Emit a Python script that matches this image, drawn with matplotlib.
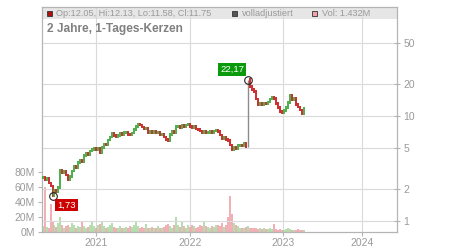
import matplotlib
matplotlib.use("Agg")
import matplotlib.pyplot as plt
import matplotlib.dates as mdates
from matplotlib.patches import Rectangle
from matplotlib.ticker import FixedLocator, FixedFormatter, NullLocator
import pandas as pd
import numpy as np

plt.rcParams['font.family'] = ['Liberation Sans', 'DejaVu Sans']

# ---------------- data ----------------
start_date = "2020-06-05"
end_date = "2023-03-24"

close = [
    2.6, 2.45, 2.55, 2.3, 2.15, 1.73, 1.95, 1.9, 2.1, 3.05,
    2.9, 3.0, 2.75, 2.45, 2.65, 3.0, 3.3, 3.2, 3.6, 3.8,
    3.7, 4.2, 4.4, 4.3, 4.65, 4.8, 4.95, 4.8, 4.9, 4.5,
    5.0, 5.4, 5.3, 5.9, 6.3, 6.8, 6.5, 6.3, 6.5, 6.8,
    6.7, 6.95, 7.0, 6.7, 6.6, 6.9, 7.4, 7.9, 8.4, 8.2,
    7.85, 7.5, 7.6, 7.0, 7.1, 6.9, 7.1, 6.9, 7.0, 6.6,
    6.7, 6.3, 6.0, 5.8, 6.7, 7.2, 7.0, 7.9, 8.0, 7.8,
    8.1, 7.9, 8.2, 8.4, 8.0, 7.7, 7.9, 7.5, 7.4, 7.2,
    7.0, 7.2, 6.9, 7.0, 7.1, 6.9, 7.2, 7.35, 7.1, 6.6,
    6.1, 6.2, 6.0, 5.8, 5.3, 4.8, 5.0, 4.9, 5.2, 5.3,
    5.2, 5.5, 5.1, 22.17, 19.0, 18.0, 17.0, 14.5, 12.8, 13.2,
    12.9, 13.3, 13.0, 13.6, 14.5, 15.1, 14.6, 13.2, 12.0, 11.0,
    10.8, 11.2, 12.0, 13.5, 15.8, 14.3, 14.6, 12.9, 12.2, 11.4,
    10.6, 11.75,
]

volume_m = [
    8, 60, 7, 6, 38, 13, 9, 7, 12, 20,
    9, 6, 8, 10, 7, 12, 9, 6, 8, 7,
    13, 8, 6, 7, 9, 15, 8, 6, 9, 11,
    15, 8, 6, 7, 9, 12, 7, 6, 5, 8,
    6, 5, 7, 6, 8, 7, 9, 13, 8, 6,
    7, 5, 11, 6, 5, 7, 6, 5, 8, 6,
    5, 7, 9, 11, 8, 6, 9, 20, 9, 7,
    13, 8, 6, 9, 7, 10, 8, 6, 7, 9,
    8, 13, 8, 7, 6, 8, 7, 10, 9, 8,
    12, 7, 9, 20, 48, 24, 12, 9, 8, 6,
    5, 6, 7, 8, 6, 5, 6, 5, 4, 5,
    4, 5, 4, 4, 5, 4, 11, 4, 3, 4,
    3, 3, 4, 5, 4, 3, 3, 3, 4, 3,
    3, 3,
]

price_ticks = [1, 2, 5, 10, 20, 50]
price_tick_labels = ["1", "2", "5", "10", "20", "50"]
vol_ticks = [0, 20, 40, 60, 80]
vol_tick_labels = ["0M", "20M", "40M", "60M", "80M"]
year_ticks = ["2021-01-01", "2022-01-01", "2023-01-01", "2024-01-01"]
year_labels = ["2021", "2022", "2023", "2024"]

header_ohlc = "Op:12.05, Hi:12.13, Lo:11.58, Cl:11.75"
header_adj = "volladjustiert"
header_vol = "Vol: 1.432M"
title_text = "2 Jahre, 1-Tages-Kerzen"

# ---------------- derived ----------------
dates = mdates.date2num(pd.date_range(start_date, end_date, periods=len(close)))
opens = [close[0]] + close[:-1]
t_last = dates[-1]
FUTURE_K = 0.80  # time axis is compressed beyond the last trading day


def fwd(x):
    x = np.asarray(x, dtype=float)
    return np.where(x <= t_last, x, t_last + (x - t_last) * FUTURE_K)


def inv(y):
    y = np.asarray(y, dtype=float)
    return np.where(y <= t_last, y, t_last + (y - t_last) / FUTURE_K)


# ---------------- figure ----------------
fig = plt.figure(figsize=(4.5, 2.5), dpi=100)
rect = [42 / 450, 1 - 232 / 250, 355 / 450, 225 / 250]
ax_v = fig.add_axes(rect)
ax_p = ax_v.twinx()
ax_v.set_xscale("function", functions=(fwd, inv))

GREEN = "#3ea83a"
RED = "#c81c1c"
VGREEN = "#a9d9a1"
VPINK = "#f0a3ab"
GRID = "#dadada"
SPINE = "#b4b4b4"
TXT = "#9a9a9a"

# volume
vcols = [VGREEN if c >= o else VPINK for o, c in zip(opens, close)]
ax_v.vlines(dates, 0, volume_m, colors=vcols, linewidth=1.25, zorder=2)
ax_v.set_ylim(0, 300)

# header band
ax_v.add_patch(Rectangle((0, 1 - 12 / 225), 1, 12 / 225, transform=ax_v.transAxes,
                         facecolor="#e6e6e6", edgecolor="none", zorder=0))

# candles
for d, o, c in zip(dates, opens, close):
    if c / o > 2 or o / c > 2:
        col = "#8c8c8c"; lw = 1.0; pad = 1.0
    else:
        col = GREEN if c >= o else RED; lw = 1.3; pad = 1.03
    ax_p.vlines(d, min(o, c) / pad, max(o, c) * pad, colors=col, linewidth=lw, zorder=3)

ax_p.set_yscale("log")
ax_p.set_ylim(0.786, 109)
ax_v.set_xlim(mdates.date2num(pd.Timestamp("2020-06-03")),
              mdates.date2num(pd.Timestamp("2024-06-19")))

# extreme markers
imax = int(np.argmax(close))
imin = int(np.argmin(close))
for i, col, off in [(imax, "#0b9a0b", (-16, 10)), (imin, "#cc0000", (14, -9))]:
    ax_p.plot(dates[i], close[i], marker="o", markersize=5.5, markerfacecolor="none",
              markeredgecolor="#222222", markeredgewidth=0.8, zorder=5)
    ax_p.annotate(f"{close[i]:.2f}".replace(".", ","), (dates[i], close[i]),
                  xytext=off, textcoords="offset pixels", ha="center", va="center",
                  fontsize=6.8, color="white", zorder=6,
                  bbox=dict(boxstyle="square,pad=0.2", facecolor=col, edgecolor="none"))

# price axis (right)
ax_p.yaxis.set_major_locator(FixedLocator(price_ticks))
ax_p.yaxis.set_major_formatter(FixedFormatter(price_tick_labels))
ax_p.yaxis.set_minor_locator(NullLocator())
ax_p.tick_params(axis="y", which="major", direction="inout", length=5, width=0.8,
                 colors=SPINE, labelcolor=TXT, labelsize=7.5, pad=2)
ax_p.grid(True, axis="y", color=GRID, linewidth=0.8)

# volume axis (left)
ax_v.yaxis.set_major_locator(FixedLocator(vol_ticks))
ax_v.yaxis.set_major_formatter(FixedFormatter(vol_tick_labels))
ax_v.tick_params(axis="y", direction="out", length=3, width=0.8,
                 colors=SPINE, labelcolor=TXT, labelsize=7.5, pad=2)

# x axis
xt = mdates.date2num([pd.Timestamp(t) for t in year_ticks])
ax_v.xaxis.set_major_locator(FixedLocator(xt))
ax_v.xaxis.set_major_formatter(FixedFormatter(year_labels))
ax_v.xaxis.set_minor_locator(NullLocator())
ax_v.tick_params(axis="x", direction="out", length=3, width=0.8,
                 colors=SPINE, labelcolor=TXT, labelsize=7.5, pad=1)
ax_v.grid(True, axis="x", color=GRID, linewidth=0.8, zorder=1)
ax_v.set_axisbelow(True)

for a in (ax_v, ax_p):
    for s in a.spines.values():
        s.set_color(SPINE)
        s.set_linewidth(0.8)


# header
def sq(x, color):
    ax_p.add_patch(Rectangle((x, 1 - 9.2 / 225), 5 / 355, 5.5 / 225,
                             transform=ax_p.transAxes, facecolor=color,
                             edgecolor="#333333", linewidth=0.6, zorder=7, clip_on=False))


hy = 1 - 6.2 / 225
sq(5 / 355, "#b01010")
sq(190 / 355, "#555555")
sq(270 / 355, "#f0a3ab")
for x, s in [(14 / 355, header_ohlc), (200 / 355, header_adj), (280 / 355, header_vol)]:
    ax_p.text(x, hy, s, transform=ax_p.transAxes, fontsize=6.6,
              color=TXT, va="center", ha="left", zorder=7)
ax_p.text(5 / 355, 1 - 22 / 225, title_text, transform=ax_p.transAxes, fontsize=8.6,
          fontweight="bold", color="#808080", va="center", ha="left", zorder=7)

fig.savefig("out.png", dpi=100)
